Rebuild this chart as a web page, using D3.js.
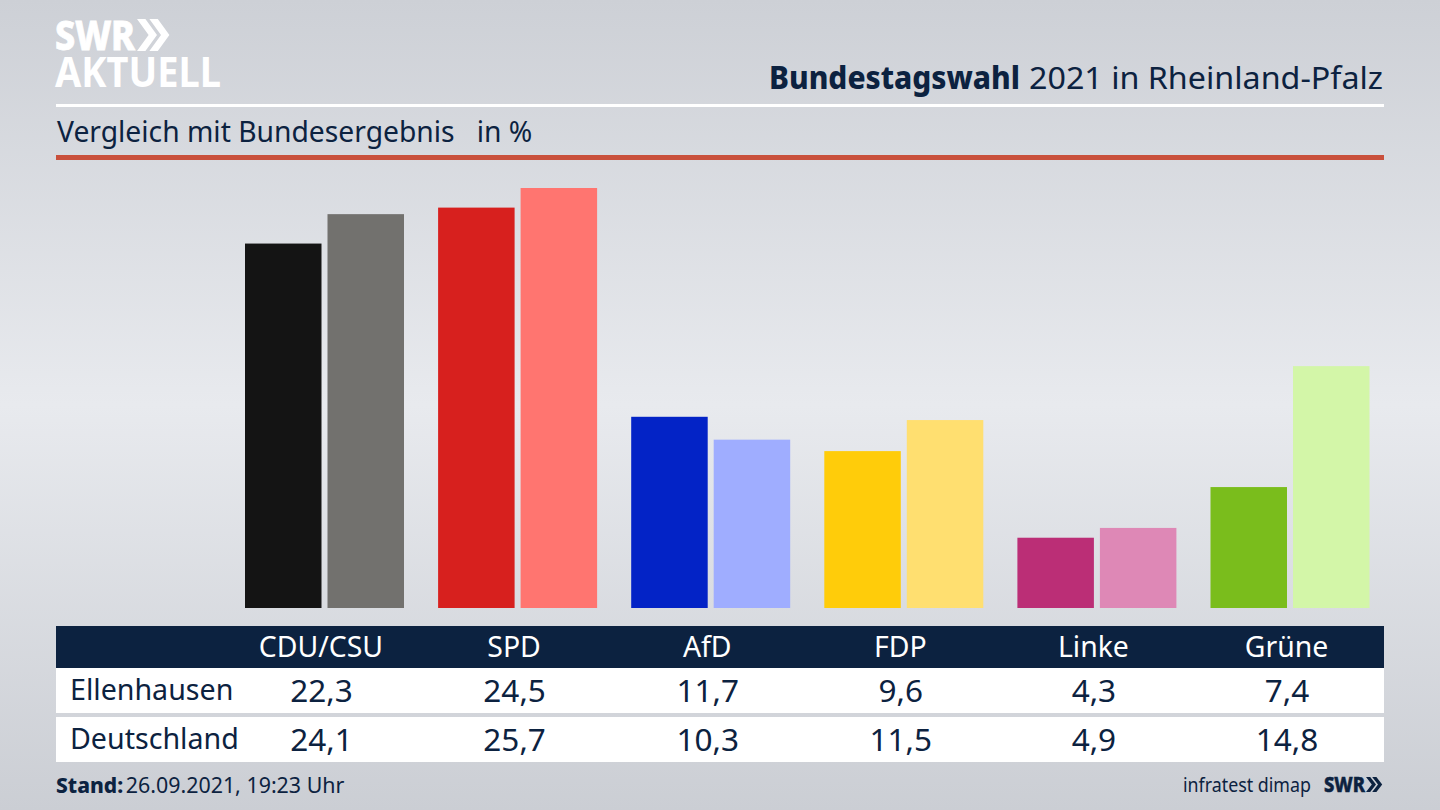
<!DOCTYPE html>
<html>
<head>
<meta charset="utf-8">
<script src="https://cdn.jsdelivr.net/npm/d3@7"></script>
<style>
html, body { margin: 0; padding: 0; background: #d5d8dd; overflow: hidden; }
svg { display: block; }
text { font-family: "Noto Sans", sans-serif; fill: #0c2240; }
</style>
</head>
<body>
<svg width="1440" height="810"></svg>
<script>
var parties = ["CDU/CSU", "SPD", "AfD", "FDP", "Linke", "Grüne"];
var regions = ["Ellenhausen", "Deutschland"];
var ellenhausen = [22.3, 24.5, 11.7, 9.6, 4.3, 7.4];
var deutschland = [24.1, 25.7, 10.3, 11.5, 4.9, 14.8];
var ellenhausenLabels = ["22,3", "24,5", "11,7", "9,6", "4,3", "7,4"];
var deutschlandLabels = ["24,1", "25,7", "10,3", "11,5", "4,9", "14,8"];
var darkColors = ["#141414", "#d7201e", "#0323c6", "#ffcc0a", "#bb2e76", "#7abd1c"];
var lightColors = ["#72716e", "#ff7570", "#9fadff", "#ffdf70", "#de88b6", "#d3f6a8"];

var navy = "#0c2240";
var svg = d3.select("svg");

// background
var defs = svg.append("defs");
var grad = defs.append("linearGradient").attr("id", "bg")
    .attr("x1", 0).attr("y1", 0).attr("x2", 0).attr("y2", 1);
[[0, "#cdd0d6"], [0.5, "#e8eaee"], [1, "#cbced4"]].forEach(function(s) {
  grad.append("stop").attr("offset", s[0]).attr("stop-color", s[1]);
});
svg.append("rect").attr("width", 1440).attr("height", 810).attr("fill", "url(#bg)");

// logo
function chevrons(g, x, y, h, w, color) {
  [0, 0.62].forEach(function(k) {
    var x0 = x + k * w;
    g.append("polygon")
      .attr("points", [[x0, y], [x0 + w * 0.42, y], [x0 + w, y + h / 2], [x0 + w * 0.42, y + h], [x0, y + h], [x0 + w * 0.58, y + h / 2]].join(" "))
      .attr("fill", color);
  });
}
var logo = svg.append("g");
logo.append("text").attr("x", 55).attr("y", 50).attr("font-size", 41).attr("font-weight", 800)
    .attr("textLength", 80).attr("lengthAdjust", "spacingAndGlyphs")
    .style("fill", "#fff").style("stroke", "#fff").style("stroke-width", 0.8).text("SWR");
chevrons(logo, 137, 19, 32, 20, "#fff");
logo.append("text").attr("x", 55).attr("y", 87).attr("font-size", 41).attr("font-weight", 700)
    .attr("textLength", 166).attr("lengthAdjust", "spacingAndGlyphs").style("fill", "#fff").text("AKTUELL");

// header
svg.append("text").attr("x", 769).attr("y", 89).attr("font-size", 31.3).attr("font-weight", 800)
    .attr("textLength", 251).attr("lengthAdjust", "spacingAndGlyphs").text("Bundestagswahl");
svg.append("text").attr("x", 1029).attr("y", 89).attr("font-size", 31.8)
    .attr("textLength", 354).attr("lengthAdjust", "spacingAndGlyphs").text("2021 in Rheinland-Pfalz");
svg.append("rect").attr("x", 56).attr("y", 104).attr("width", 1328).attr("height", 3).attr("fill", "#fff");
svg.append("text").attr("x", 57).attr("y", 142).attr("font-size", 28.25).attr("xml:space", "preserve")
    .text("Vergleich mit Bundesergebnis   in %");
svg.append("rect").attr("x", 56).attr("y", 155).attr("width", 1328).attr("height", 5).attr("fill", "#c9503c");

// scales
var x = d3.scalePoint().domain(parties).range([321, 1286.5]);
var y = d3.scaleLinear().domain([0, 25.7]).range([608, 188]);
var barW = 76.5, barGap = 5;

svg.append("g").selectAll("rect").data(ellenhausen).join("rect")
    .attr("x", function(d, i) { return x(parties[i]) - 76; })
    .attr("y", function(d) { return y(d); })
    .attr("width", barW)
    .attr("height", function(d) { return y(0) - y(d); })
    .attr("fill", function(d, i) { return darkColors[i]; });
svg.append("g").selectAll("rect").data(deutschland).join("rect")
    .attr("x", function(d, i) { return x(parties[i]) + barGap + 1.5; })
    .attr("y", function(d) { return y(d); })
    .attr("width", barW)
    .attr("height", function(d) { return y(0) - y(d); })
    .attr("fill", function(d, i) { return lightColors[i]; });

// table
svg.append("rect").attr("x", 56).attr("y", 626).attr("width", 1328).attr("height", 42).attr("fill", navy);
svg.append("rect").attr("x", 56).attr("y", 668).attr("width", 1328).attr("height", 45).attr("fill", "#fff");
svg.append("rect").attr("x", 56).attr("y", 717).attr("width", 1328).attr("height", 45).attr("fill", "#fff");

svg.append("g").selectAll("text").data(parties).join("text")
    .attr("x", function(d) { return x(d); })
    .attr("y", 657).attr("text-anchor", "middle").attr("font-size", 28.4)
    .style("fill", "#fff").text(function(d) { return d; });

var rowY = [702, 751];
regions.forEach(function(r, k) {
  svg.append("text").attr("x", 70).attr("y", rowY[k] - 2).attr("font-size", 28.6).text(r);
  svg.append("g").selectAll("text").data(k === 0 ? ellenhausenLabels : deutschlandLabels).join("text")
      .attr("x", function(d, i) { return x(parties[i]) + 0.5; })
      .attr("y", rowY[k]).attr("text-anchor", "middle").attr("font-size", 31.5)
      .text(function(d) { return d; });
});

// footer
var stand = svg.append("text").attr("x", 56).attr("y", 793).attr("font-size", 21);
stand.append("tspan").attr("font-weight", 800).text("Stand:");
stand.append("tspan").attr("dx", -3).attr("font-size", 21.4).text(" 26.09.2021, 19:23 Uhr");
svg.append("text").attr("x", 1183).attr("y", 792).attr("font-size", 20)
    .attr("textLength", 128).attr("lengthAdjust", "spacingAndGlyphs").text("infratest dimap");
svg.append("text").attr("x", 1324).attr("y", 792).attr("font-size", 21).attr("font-weight", 800)
    .attr("textLength", 41).attr("lengthAdjust", "spacingAndGlyphs")
    .style("stroke", navy).style("stroke-width", 0.5).text("SWR");
chevrons(svg.append("g"), 1366, 777, 15, 10, navy);
</script>
</body>
</html>
